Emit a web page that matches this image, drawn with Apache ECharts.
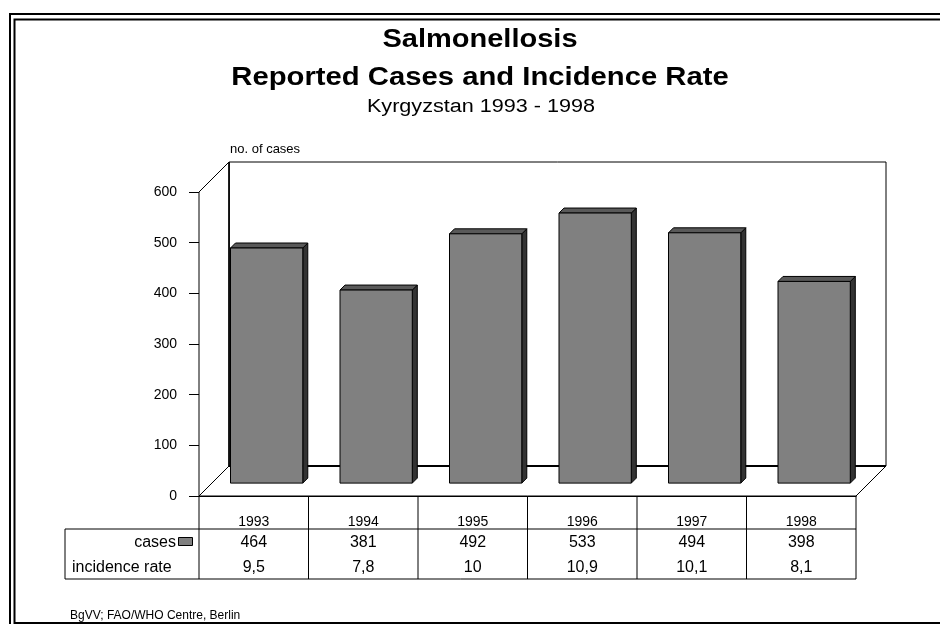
<!DOCTYPE html>
<html>
<head>
<meta charset="utf-8">
<title>Salmonellosis - Kyrgyzstan</title>
<script src="https://cdn.jsdelivr.net/npm/echarts@6/dist/echarts.min.js"></script>
<style>
  html, body { margin: 0; padding: 0; background: #fff; }
  #chart { width: 940px; height: 624px; }
</style>
</head>
<body>
<div id="chart"></div>
<script>
  // data
  const years = ['1993', '1994', '1995', '1996', '1997', '1998'];
  const cases = [464, 381, 492, 533, 494, 398];
  const incidenceRate = [9.5, 7.8, 10, 10.9, 10.1, 8.1];
  const yTicks = { min: 0, max: 600, interval: 100 };

  const FONT = "'Liberation Sans', Arial, sans-serif";
  // fake 3d: depth of the box and where the bars sit in it
  const DX = 30, DY = -30;
  const BAR_POS = 0.43;
  const BAR_SIDE = 5;
  const BAR_W = 0.66;

  const fmtRate = v => String(v).replace('.', ',');

  function txt(text, x, y, size, align, bold) {
    return {
      type: 'text',
      style: {
        text: text, x: x, y: y,
        font: (bold ? 'bold ' : '') + size + 'px ' + FONT,
        fill: '#000',
        align: align, textAlign: align,
        verticalAlign: 'middle', textVerticalAlign: 'middle'
      }
    };
  }

  // the original's titles are set in a horizontally stretched face
  function wideTxt(text, x, y, size, sx, bold) {
    const t = txt(text, 0, 0, size, 'center', bold);
    t.x = x;
    t.y = y;
    t.scaleX = sx;
    return t;
  }

  function line(x1, y1, x2, y2, w) {
    return { type: 'line', shape: { x1, y1, x2, y2 }, style: { stroke: '#000', lineWidth: w || 1 } };
  }

  function renderBox(params, api) {
    const cs = params.coordSys;
    const L = cs.x, T = cs.y, R = cs.x + cs.width, B = cs.y + cs.height;
    const wall = { fill: '#fff', stroke: '#000', lineWidth: 1 };
    const children = [
      { type: 'polygon', shape: { points: [[L + DX, T + DY], [R + DX, T + DY], [R + DX, B + DY], [L + DX, B + DY]] }, style: wall },
      { type: 'polygon', shape: { points: [[L, B], [L + DX, B + DY], [L + DX, T + DY], [L, T]] }, style: wall },
      { type: 'polygon', shape: { points: [[L, B], [R, B], [R + DX, B + DY], [L + DX, B + DY]] }, style: wall },
      line(L + DX, B + DY, R + DX, B + DY, 2),
      line(L + DX, T + DY, L + DX, B + DY, 1.5)
    ];

    // data table under the axis
    const tl = 65, r1 = B + 33, r2 = B + 83;
    children.push(line(tl, r1, R, r1), line(tl, r2, R, r2), line(tl, r1, tl, r2));
    for (let k = 0; k <= years.length; k++) {
      const x = L + k * cs.width / years.length;
      children.push(line(x, B, x, r2));
    }
    children.push(txt('cases', 176, B + 46.5, 16, 'right'));
    children.push({
      type: 'rect',
      shape: { x: 178.5, y: B + 41.5, width: 14, height: 8 },
      style: { fill: '#808080', stroke: '#000', lineWidth: 1 }
    });
    children.push(txt('incidence rate', 72, B + 72, 16, 'left'));
    return { type: 'group', children: children };
  }

  function renderBar(params, api) {
    const i = api.value(0);
    const v = api.value(1);
    const base = api.coord([i, 0]);
    const top = api.coord([i, v]);
    const bw = api.size([1, 0])[0] * BAR_W;
    const x0 = base[0] - bw / 2 + DX * BAR_POS;
    const x1 = x0 + bw;
    const yb = base[1] + DY * BAR_POS;
    const yt = top[1] + DY * BAR_POS;
    const s = BAR_SIDE;
    return {
      type: 'group',
      children: [
        { type: 'polygon', shape: { points: [[x1, yt], [x1 + s, yt - s], [x1 + s, yb - s], [x1, yb]] },
          style: { fill: '#333333', stroke: '#000', lineWidth: 1 } },
        { type: 'polygon', shape: { points: [[x0, yt], [x0 + s, yt - s], [x1 + s, yt - s], [x1, yt]] },
          style: { fill: '#595959', stroke: '#000', lineWidth: 1 } },
        { type: 'rect', shape: { x: x0, y: yt, width: bw, height: yb - yt },
          style: { fill: '#808080', stroke: '#000', lineWidth: 1 } }
      ]
    };
  }

  function renderTableCell(params, api) {
    const i = api.value(0);
    const cs = params.coordSys;
    const B = cs.y + cs.height;
    const x = api.coord([i, 0])[0];
    return {
      type: 'group',
      children: [
        txt(String(cases[i]), x, B + 46.5, 16, 'center'),
        txt(fmtRate(incidenceRate[i]), x, B + 71.5, 16, 'center')
      ]
    };
  }

  const chart = echarts.init(document.getElementById('chart'));

  const option = {
    backgroundColor: '#fff',
    animation: false,
    textStyle: { fontFamily: FONT },
    graphic: [
      { type: 'rect', shape: { x: 10, y: 14, width: 1000, height: 1000 }, style: { fill: 'none', stroke: '#000', lineWidth: 2 } },
      { type: 'rect', shape: { x: 14.5, y: 19.5, width: 1000, height: 603.5 }, style: { fill: 'none', stroke: '#000', lineWidth: 2 } },
      wideTxt('Salmonellosis', 480, 40, 25, 1.16, true),
      wideTxt('Reported Cases and Incidence Rate', 480, 78.5, 25, 1.17, true),
      wideTxt('Kyrgyzstan 1993 - 1998', 481, 107, 18, 1.2),
      txt('BgVV; FAO/WHO Centre, Berlin', 70, 616, 12, 'left')
    ],
    grid: { left: 199, top: 192, width: 657, height: 304, containLabel: false },
    xAxis: {
      type: 'category',
      data: years,
      axisLine: { lineStyle: { color: '#000', width: 1 } },
      axisTick: { alignWithLabel: true, length: 10, lineStyle: { color: '#000' } },
      axisLabel: { color: '#000', fontSize: 14, margin: 19, fontFamily: FONT },
      splitLine: { show: false }
    },
    yAxis: {
      type: 'value',
      min: yTicks.min,
      max: yTicks.max,
      interval: yTicks.interval,
      name: 'no. of cases',
      nameLocation: 'end',
      nameGap: 36,
      nameTextStyle: { color: '#000', fontSize: 13, align: 'left', padding: [0, 0, 0, 31], fontFamily: FONT },
      axisLine: { show: true, lineStyle: { color: '#000', width: 1 } },
      axisTick: { show: true, length: 10, lineStyle: { color: '#000' } },
      axisLabel: { color: '#000', fontSize: 14, margin: 22, fontFamily: FONT },
      splitLine: { show: false }
    },
    series: [
      {
        name: 'box',
        type: 'custom',
        silent: true,
        z: 1,
        data: [[0, 0]],
        renderItem: renderBox
      },
      {
        name: 'cases',
        type: 'custom',
        z: 3,
        data: cases.map((v, i) => [i, v]),
        encode: { x: 0, y: 1 },
        renderItem: renderBar
      },
      {
        name: 'table',
        type: 'custom',
        silent: true,
        z: 3,
        data: years.map((y, i) => [i, 0]),
        renderItem: renderTableCell
      }
    ]
  };

  chart.setOption(option);
</script>
</body>
</html>
